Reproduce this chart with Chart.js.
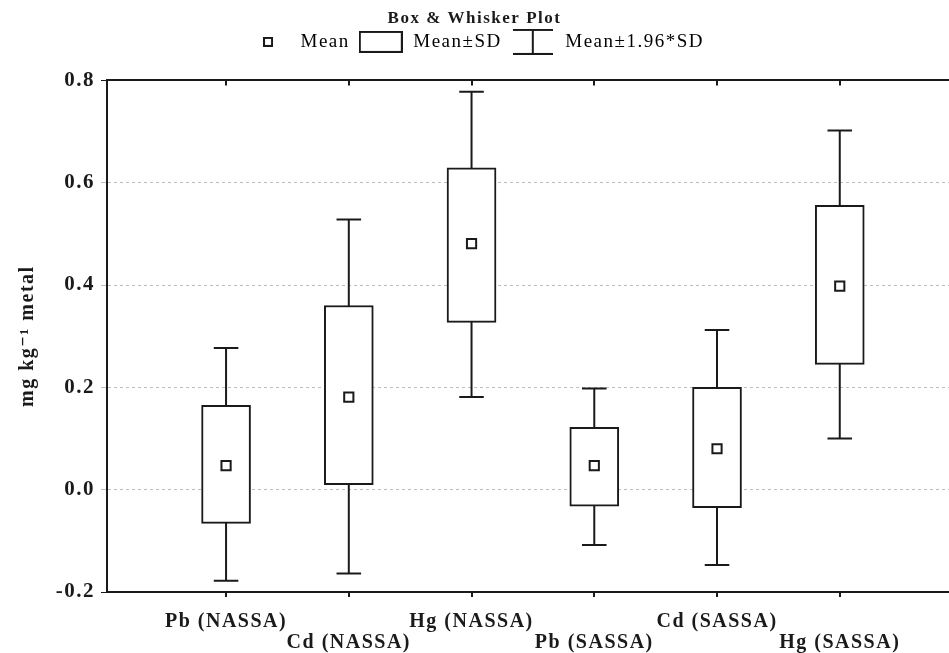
<!DOCTYPE html>
<html>
<head>
<meta charset="utf-8">
<script src="https://cdn.jsdelivr.net/npm/chart.js@4.4.1/dist/chart.umd.min.js"></script>
<style>
  html, body { margin: 0; padding: 0; background: #fff; }
  #wrap { width: 949px; height: 653px; }
</style>
</head>
<body>
<div id="wrap"><canvas id="boxChart" width="949" height="653"></canvas></div>
<script>
// data (mg kg-1)
const categories = ['Pb (NASSA)', 'Cd (NASSA)', 'Hg (NASSA)', 'Pb (SASSA)', 'Cd (SASSA)', 'Hg (SASSA)'];
const means      = [0.047, 0.181, 0.481, 0.047, 0.080, 0.398];
const sdLow      = [-0.066, 0.010, 0.327, -0.032, -0.035, 0.245];
const sdHigh     = [0.165, 0.360, 0.629, 0.122, 0.200, 0.556];
const ciLow      = [-0.178, -0.164, 0.181, -0.108, -0.147, 0.100];
const ciHigh     = [0.277, 0.528, 0.778, 0.198, 0.312, 0.702];
const yTicks     = [-0.2, 0.0, 0.2, 0.4, 0.6, 0.8];

const SERIF = '"Liberation Serif", "DejaVu Serif", serif';
const INK = '#1a1a1a';
const capHalf = 0.1;

// whiskers + caps as line segments, null points split them
const whiskerPts = [];
const capPts = [];
categories.forEach((c, i) => {
  const x = i + 1;
  whiskerPts.push({x: x, y: ciLow[i]}, {x: x, y: ciHigh[i]}, {x: x, y: null});
  capPts.push({x: x - capHalf, y: ciLow[i]}, {x: x + capHalf, y: ciLow[i]}, {x: x, y: null});
  capPts.push({x: x - capHalf, y: ciHigh[i]}, {x: x + capHalf, y: ciHigh[i]}, {x: x, y: null});
});

// small canvases used as legend symbols
const makeIcon = (w, h, draw) => {
  const c = document.createElement('canvas');
  c.width = w; c.height = h;
  const g = c.getContext('2d');
  g.strokeStyle = INK;
  g.lineWidth = 2;
  draw(g);
  return c;
};
const meanIcon = makeIcon(10, 10, g => g.strokeRect(1, 1, 8, 8));
const boxIcon = makeIcon(44, 22, g => g.strokeRect(1, 1, 42, 20));
const whiskIcon = makeIcon(40, 26, g => {
  g.beginPath();
  g.moveTo(0, 1); g.lineTo(40, 1);
  g.moveTo(20, 1); g.lineTo(20, 25);
  g.moveTo(0, 25); g.lineTo(40, 25);
  g.stroke();
});

// the source figure has wide-set lettering
const spacing = {
  id: 'spacing',
  beforeLayout: (chart) => { chart.ctx.letterSpacing = '1.5px'; },
  beforeDraw: (chart) => { chart.ctx.letterSpacing = '1.5px'; }
};

const categoryTicks = (scale) => {
  scale.ticks = categories.map((c, i) => ({ value: i + 1 }));
};

const ctx = document.getElementById('boxChart').getContext('2d');
ctx.letterSpacing = '1.5px';
new Chart(ctx, {
  data: {
    datasets: [
      {
        type: 'scatter',
        label: 'Mean',
        data: means.map((m, i) => ({x: i + 1, y: m})),
        pointStyle: 'rect',
        pointRadius: 6.5,
        backgroundColor: '#fff',
        borderColor: INK,
        borderWidth: 2,
        order: 0
      },
      {
        type: 'bar',
        label: 'Mean±SD',
        data: sdLow.map((lo, i) => ({x: i + 1, y: [lo, sdHigh[i]]})),
        backgroundColor: '#fff',
        borderColor: INK,
        borderWidth: 2,
        borderSkipped: false,
        barThickness: 49,
        order: 1
      },
      {
        type: 'scatter',
        label: 'Mean±1.96*SD',
        data: whiskerPts,
        showLine: true,
        pointRadius: 0,
        borderColor: INK,
        borderWidth: 2,
        order: 2
      },
      {
        type: 'scatter',
        label: 'caps',
        data: capPts,
        showLine: true,
        pointRadius: 0,
        borderColor: INK,
        borderWidth: 2,
        order: 2
      }
    ]
  },
  plugins: [spacing],
  options: {
    responsive: false,
    animation: false,
    layout: { padding: 0, autoPadding: false },
    plugins: {
      tooltip: { enabled: false },
      title: {
        display: true,
        text: 'Box & Whisker Plot',
        color: INK,
        font: { family: SERIF, size: 17, weight: 'bold' },
        padding: { top: 8, bottom: -4 }
      },
      legend: {
        display: true,
        labels: {
          usePointStyle: true,
          pointStyleWidth: 46,
          boxHeight: 22,
          padding: 8,
          color: INK,
          font: { family: SERIF, size: 19 },
          generateLabels: () => [
            { text: 'Mean', pointStyle: meanIcon, fillStyle: '#fff', strokeStyle: INK, lineWidth: 0, datasetIndex: 0 },
            { text: 'Mean±SD', pointStyle: boxIcon, fillStyle: '#fff', strokeStyle: INK, lineWidth: 0, datasetIndex: 1 },
            { text: 'Mean±1.96*SD', pointStyle: whiskIcon, fillStyle: '#fff', strokeStyle: INK, lineWidth: 0, datasetIndex: 2 }
          ]
        },
        onClick: () => {}
      }
    },
    scales: {
      x: {
        type: 'linear',
        offset: false,
        min: 0.03,
        max: 6.89,
        afterBuildTicks: categoryTicks,
        afterFit: (scale) => { scale.height = 61; },
        ticks: {
          autoSkip: false,
          maxRotation: 0,
          padding: 14,
          color: INK,
          font: { family: SERIF, size: 20, weight: 'bold', lineHeight: 1.05 },
          callback: (v) => {
            const i = Math.round(v) - 1;
            return i % 2 === 0 ? [categories[i]] : ['', categories[i]];
          }
        },
        grid: { offset: false, drawOnChartArea: false, drawTicks: true, tickLength: 5, color: INK, lineWidth: 2 },
        border: { display: true, color: INK, width: 2 }
      },
      xTop: {
        type: 'linear',
        position: 'top',
        offset: false,
        min: 0.03,
        max: 6.89,
        afterBuildTicks: categoryTicks,
        afterFit: (scale) => { scale.height = 19; },
        ticks: { display: false },
        grid: { offset: false, drawOnChartArea: false, drawTicks: true, tickLength: -5, color: INK, lineWidth: 2 },
        border: { display: true, color: INK, width: 2 }
      },
      y: {
        min: -0.2,
        max: 0.8,
        afterBuildTicks: (scale) => {
          scale.ticks = yTicks.map(v => ({ value: v }));
        },
        afterFit: (scale) => { scale.width = 107; },
        title: {
          display: true,
          text: 'mg kg⁻¹ metal',
          color: INK,
          padding: { top: 16, bottom: 0 },
          font: { family: SERIF, size: 20, weight: 'bold' }
        },
        ticks: {
          color: INK,
          padding: 6,
          font: { family: SERIF, size: 21, weight: 'bold' },
          callback: (v) => v.toFixed(1)
        },
        grid: {
          tickLength: 6,
          color: (c) => (c.tick && (c.tick.value === 0.8 || c.tick.value === -0.2)) ? 'rgba(0,0,0,0)' : '#bdbdbd',
          tickColor: (c) => (c.tick && (c.tick.value === 0.8 || c.tick.value === -0.2)) ? INK : '#bdbdbd',
          lineWidth: 1
        },
        border: { display: true, color: INK, width: 2, dash: [3, 3] }
      }
    }
  }
});
</script>
</body>
</html>
